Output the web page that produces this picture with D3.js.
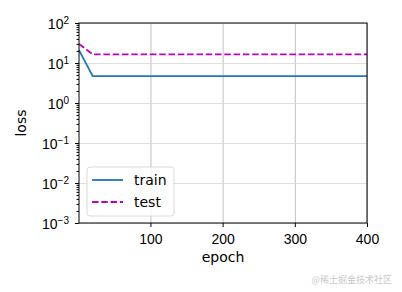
<!DOCTYPE html>
<html>
<head>
<meta charset="utf-8">
<script src="https://cdn.jsdelivr.net/npm/d3@7"></script>
<style>
  body { margin: 0; background: #fff; }
  svg { font-family: "DejaVu Sans", sans-serif; }
  .axis path, .axis line { stroke: #000; }
  .axis text { fill: #000; font-size: 14px; }
  .grid line { stroke: #b0b0b0; stroke-width: 0.8; }
  .grid path { display: none; }
</style>
</head>
<body>
<svg id="chart"></svg>
<script>
//chart values
var epochs = [1, 20, 400];
var trainLoss = [21, 4.7, 4.7];
var testLoss = [30, 16.5, 16.5];
var xTicks = [100, 200, 300, 400];
var yExponents = [-3, -2, -1, 0, 1, 2];
var seriesNames = ['train', 'test'];

function drawChart() {
    var svg = d3.select('#chart')
        .attr('width', 402)
        .attr('height', 292);

    //define margins and chart extent
    var margin = {top: 23, right: 35, bottom: 69, left: 79},
        width = +svg.attr('width') - margin.left - margin.right,
        height = +svg.attr('height') - margin.top - margin.bottom;

    //define scales
    var xScale = d3.scaleLinear().domain([1, 400]).range([0, width]),
        yScale = d3.scaleLog().domain([1e-3, 1e2]).range([height, 0]);

    var canvas = svg.append('g')
        .attr('transform', 'translate(' + margin.left + ',' + margin.top + ')');

    //gridlines
    canvas.append('g')
        .attr('class', 'grid')
        .attr('transform', 'translate(0,' + height + ')')
        .call(d3.axisBottom(xScale).tickValues(xTicks).tickSize(-height).tickFormat(''));
    canvas.append('g')
        .attr('class', 'grid')
        .call(d3.axisLeft(yScale).tickValues(yExponents.map(e => Math.pow(10, e))).tickSize(-width).tickFormat(''))
        .selectAll('line').style('stroke', '#d6d6d6');

    //minor y ticks
    var minor = [];
    yExponents.slice(0, -1).forEach(e => {
        for (var k = 2; k < 10; k++) minor.push(k * Math.pow(10, e));
    });
    canvas.append('g')
        .attr('class', 'axis')
        .call(d3.axisLeft(yScale).tickValues(minor).tickSize(2.5).tickFormat(''))
        .select('.domain').remove();

    //line generator
    var line = d3.line()
        .x((d, i) => xScale(epochs[i]))
        .y(d => yScale(d));

    canvas.append('path')
        .datum(trainLoss)
        .attr('d', line)
        .attr('fill', 'none')
        .attr('stroke', '#1f77b4')
        .attr('stroke-width', 1.8);

    canvas.append('path')
        .datum(testLoss)
        .attr('d', line)
        .attr('fill', 'none')
        .attr('stroke', '#bf00bf')
        .attr('stroke-width', 1.8)
        .attr('stroke-dasharray', '6.5,2.8');

    //frame
    canvas.append('rect')
        .attr('width', width)
        .attr('height', height)
        .attr('fill', 'none')
        .attr('stroke', '#000')
        .attr('stroke-width', 1);

    //x axis
    var xAxis = canvas.append('g')
        .attr('class', 'axis')
        .attr('transform', 'translate(0,' + height + ')')
        .call(d3.axisBottom(xScale).tickValues(xTicks).tickSize(4).tickPadding(7));
    xAxis.select('.domain').remove();

    //y axis with superscript labels
    var yAxis = canvas.append('g')
        .attr('class', 'axis')
        .call(d3.axisLeft(yScale).tickValues(yExponents.map(e => Math.pow(10, e))).tickSize(4).tickPadding(6).tickFormat(''));
    yAxis.select('.domain').remove();
    yAxis.selectAll('.tick text').each(function(d) {
        var e = Math.round(Math.log10(d));
        var t = d3.select(this).attr('dy', '0.42em');
        t.append('tspan').text('10');
        t.append('tspan').attr('dy', '-0.5em').style('font-size', '10px')
            .text(e < 0 ? '\u2212' + (-e) : e);
    });

    //axis labels
    svg.append('text')
        .attr('x', margin.left + width / 2)
        .attr('y', 262)
        .attr('text-anchor', 'middle')
        .style('font-size', '14px')
        .text('epoch');
    svg.append('text')
        .attr('transform', 'translate(26,' + (margin.top + height / 2) + ') rotate(-90)')
        .attr('text-anchor', 'middle')
        .style('font-size', '14px')
        .text('loss');

    //legend
    var legend = svg.append('g').attr('transform', 'translate(87,167)');
    legend.append('rect')
        .attr('width', 87).attr('height', 49).attr('rx', 3)
        .attr('fill', 'rgba(255,255,255,0.8)')
        .attr('stroke', '#d0d0d0').attr('stroke-width', 0.8);
    var colors = ['#1f77b4', '#bf00bf'], dashes = [null, '6.5,2.8'];
    seriesNames.forEach((name, i) => {
        var y = 13 + i * 22;
        legend.append('line')
            .attr('x1', 5).attr('x2', 36).attr('y1', y).attr('y2', y)
            .attr('stroke', colors[i]).attr('stroke-width', 1.8)
            .attr('stroke-dasharray', dashes[i]);
        legend.append('text')
            .attr('x', 47).attr('y', y).attr('dy', '0.35em')
            .style('font-size', '14px')
            .text(name);
    });

    //watermark
    svg.append('text')
        .attr('x', 392).attr('y', 283)
        .attr('text-anchor', 'end')
        .style('font-size', '9px')
        .style('font-family', '"Noto Sans CJK SC", sans-serif')
        .attr('fill', '#c8c8c8')
        .text('@稀土掘金技术社区');
}

drawChart();
</script>
</body>
</html>
